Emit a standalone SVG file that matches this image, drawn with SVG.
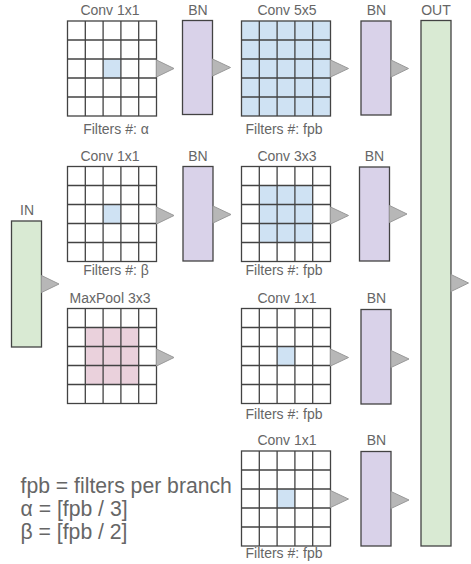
<svg xmlns="http://www.w3.org/2000/svg" width="471" height="564" viewBox="0 0 471 564">
<style>
text{font-family:"Liberation Sans",Arial,sans-serif;fill:#666666;}
.lbl{font-size:14px;text-anchor:middle;}
.big{font-size:21.2px;}
.gl{stroke:#434343;stroke-width:1.3;fill:none;}
.bn{fill:#d9d2e9;stroke:#434343;stroke-width:1.3;}
.io{fill:#d9ead3;stroke:#434343;stroke-width:1.3;}
.tri{fill:#b7b7b7;stroke:#999999;stroke-width:1;}
.blue{fill:#cfe2f3;}
.pink{fill:#ead1dc;}
</style>
<defs>
<g id="grid">
<rect x="0" y="0" width="89" height="95" fill="#ffffff" stroke="none"/>
</g>
<g id="gridlines" class="gl">
<rect x="0" y="0" width="89" height="95"/>
<path d="M17.8 0V95M35.6 0V95M53.4 0V95M71.2 0V95M0 19H89M0 38H89M0 57H89M0 76H89"/>
</g>
</defs>

<g id="in">
<rect class="io" x="11.5" y="221" width="30" height="126"/>
<text class="lbl" x="27" y="215">IN</text>
</g>

<g id="conv1x1-a">
<use href="#grid" x="67.5" y="21"/>
<rect class="blue" x="103.1" y="59" width="17.8" height="19"/>
<use href="#gridlines" x="67.5" y="21"/>
<text class="lbl" x="110" y="15">Conv 1x1</text>
<text class="lbl" x="116" y="134">Filters #: α</text>
</g>

<g id="conv1x1-b">
<use href="#grid" x="67.5" y="166.5"/>
<rect class="blue" x="103.1" y="204.5" width="17.8" height="19"/>
<use href="#gridlines" x="67.5" y="166.5"/>
<text class="lbl" x="110" y="160.5">Conv 1x1</text>
<text class="lbl" x="116" y="275">Filters #: β</text>
</g>

<g id="maxpool3x3">
<use href="#grid" x="67.5" y="308.5"/>
<rect class="pink" x="85.3" y="327.5" width="53.4" height="57"/>
<use href="#gridlines" x="67.5" y="308.5"/>
<text class="lbl" x="110" y="303">MaxPool 3x3</text>
</g>

<g id="conv5x5">
<use href="#grid" x="241.5" y="21"/>
<rect class="blue" x="241.5" y="21" width="89" height="95"/>
<use href="#gridlines" x="241.5" y="21"/>
<text class="lbl" x="287" y="15">Conv 5x5</text>
<text class="lbl" x="284" y="134">Filters #: fpb</text>
</g>

<g id="conv3x3">
<use href="#grid" x="241.5" y="166.5"/>
<rect class="blue" x="259.3" y="185.5" width="53.4" height="57"/>
<use href="#gridlines" x="241.5" y="166.5"/>
<text class="lbl" x="287" y="160.5">Conv 3x3</text>
<text class="lbl" x="284" y="275">Filters #: fpb</text>
</g>

<g id="conv1x1-c">
<use href="#grid" x="241.5" y="308.5"/>
<rect class="blue" x="277.1" y="346.5" width="17.8" height="19"/>
<use href="#gridlines" x="241.5" y="308.5"/>
<text class="lbl" x="287" y="302.5">Conv 1x1</text>
<text class="lbl" x="284" y="418.5">Filters #: fpb</text>
</g>

<g id="conv1x1-d">
<use href="#grid" x="241.5" y="451"/>
<rect class="blue" x="277.1" y="489" width="17.8" height="19"/>
<use href="#gridlines" x="241.5" y="451"/>
<text class="lbl" x="287" y="445">Conv 1x1</text>
<text class="lbl" x="284" y="557.5">Filters #: fpb</text>
</g>

<g id="bn1"><rect class="bn" x="182.5" y="20.5" width="30" height="94"/><text class="lbl" x="198" y="15">BN</text></g>
<g id="bn2"><rect class="bn" x="183" y="166.5" width="30" height="94.5"/><text class="lbl" x="198" y="160.5">BN</text></g>
<g id="bn3"><rect class="bn" x="361" y="21" width="30" height="94"/><text class="lbl" x="376.5" y="15">BN</text></g>
<g id="bn4"><rect class="bn" x="359.5" y="167" width="30" height="94"/><text class="lbl" x="374.5" y="160.5">BN</text></g>
<g id="bn5"><rect class="bn" x="361" y="309.5" width="30" height="94.5"/><text class="lbl" x="376.5" y="302.5">BN</text></g>
<g id="bn6"><rect class="bn" x="361" y="451.5" width="30" height="94.5"/><text class="lbl" x="376.5" y="445">BN</text></g>

<g id="out">
<rect class="io" x="421" y="20.5" width="30" height="525.5"/>
<text class="lbl" x="436" y="15">OUT</text>
</g>

<g id="connectors">
<path class="tri" d="M41.5 275.5L59 284L41.5 292.5Z"/>
<path class="tri" d="M156.5 60L174 68.5L156.5 77Z"/>
<path class="tri" d="M212.5 59L230.5 67.5L212.5 76Z"/>
<path class="tri" d="M156.5 207L174 215.5L156.5 224Z"/>
<path class="tri" d="M213 206L231 214.5L213 223Z"/>
<path class="tri" d="M156.5 349L174 357.5L156.5 366Z"/>
<path class="tri" d="M330.5 60L348.5 68.5L330.5 77Z"/>
<path class="tri" d="M391 60L408.5 68.5L391 77Z"/>
<path class="tri" d="M330.5 207L348.5 215.5L330.5 224Z"/>
<path class="tri" d="M389.5 205.5L407 214L389.5 222.5Z"/>
<path class="tri" d="M330.5 349L348.5 357.5L330.5 366Z"/>
<path class="tri" d="M391 350.5L409 359L391 367.5Z"/>
<path class="tri" d="M330.5 490.5L348.5 499L330.5 507.5Z"/>
<path class="tri" d="M391 491.5L409 500L391 508.5Z"/>
<path class="tri" d="M451 274.5L468.5 283L451 291.5Z"/>
</g>

<g id="legend">
<text class="big" x="20.5" y="492.7">fpb = filters per branch</text>
<text class="big" x="20.5" y="516">α = [fpb / 3]</text>
<text class="big" x="20.5" y="539.3">β = [fpb / 2]</text>
</g>
</svg>
